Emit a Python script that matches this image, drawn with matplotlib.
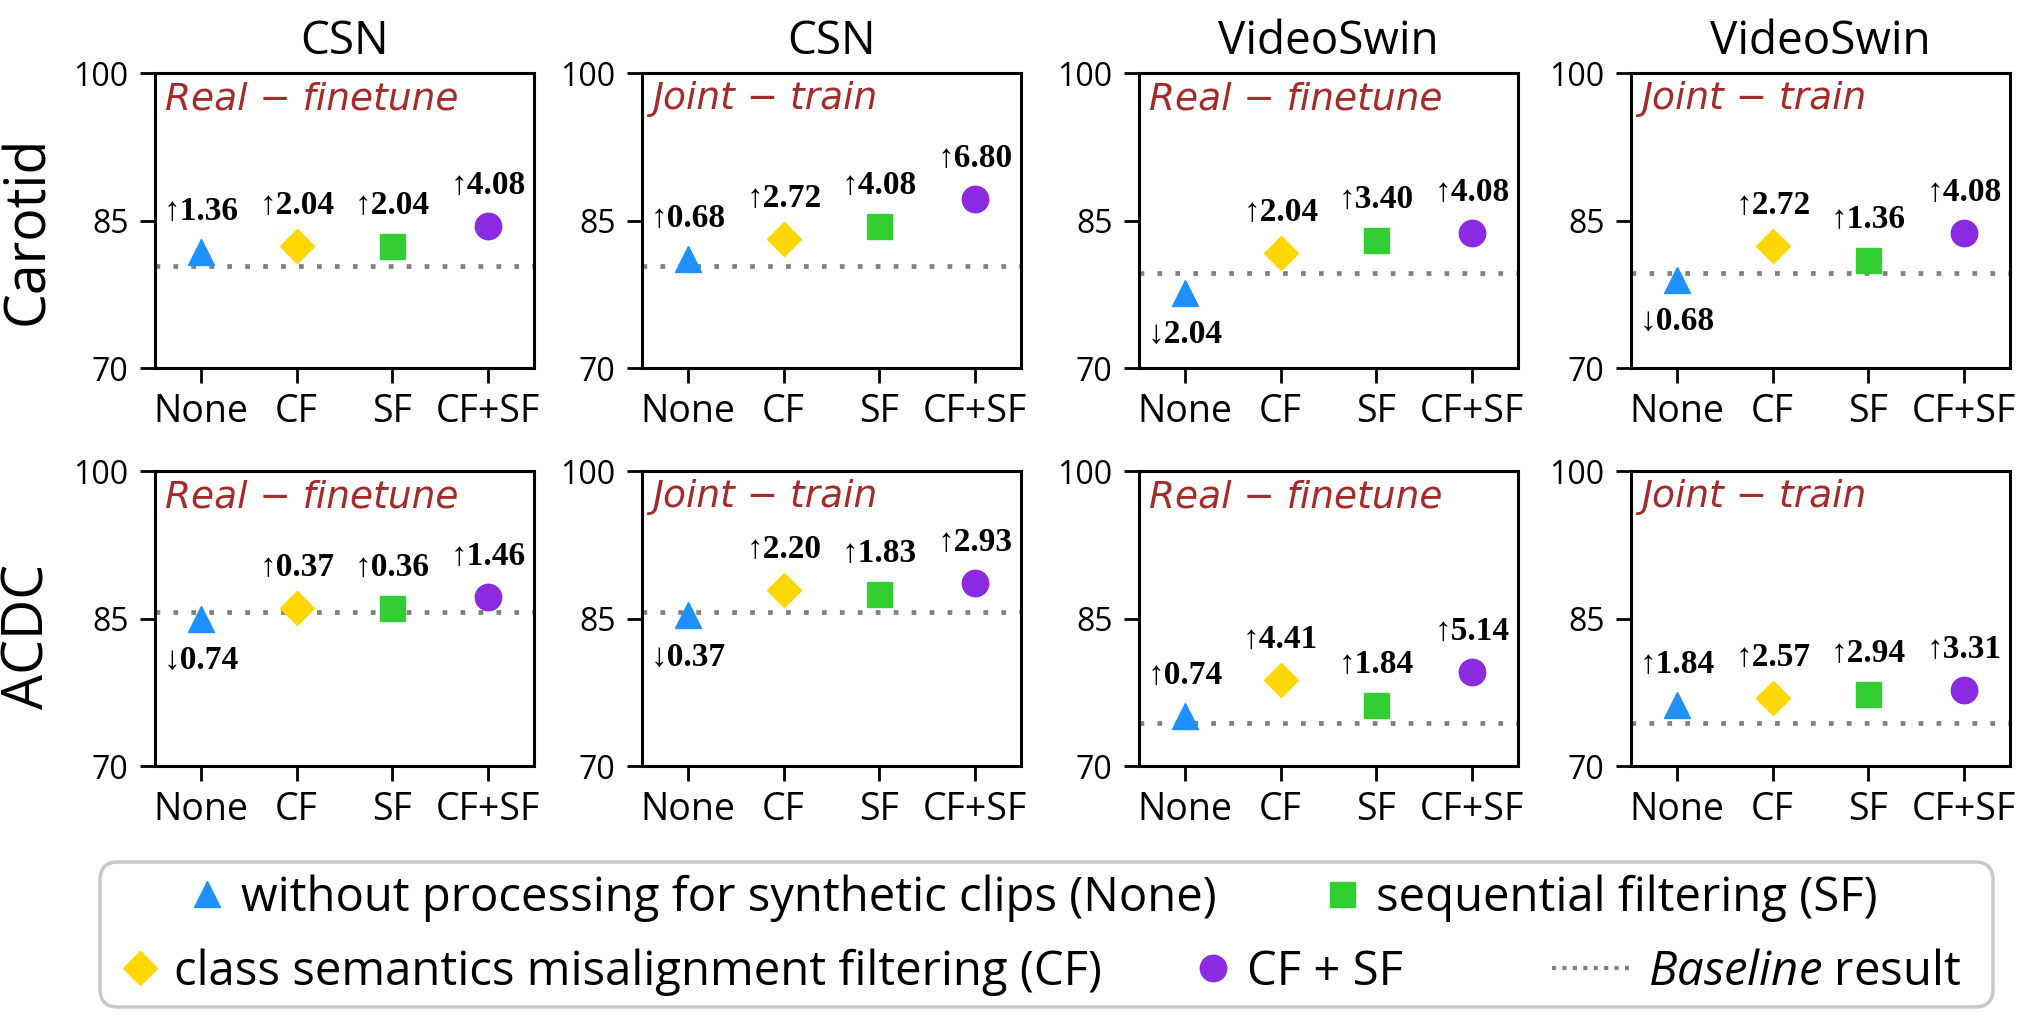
import matplotlib.pyplot as plt
from matplotlib.lines import Line2D
from matplotlib.patches import FancyBboxPatch
from matplotlib.transforms import IdentityTransform

plt.rcParams['font.family'] = ['Open Sans', 'DejaVu Sans']
plt.rcParams['mathtext.fontset'] = 'custom'
plt.rcParams['mathtext.it'] = 'Open Sans:italic'
plt.rcParams['mathtext.rm'] = 'Open Sans'

#------------------------------------- DATOS ------------------------------------

models = ['CSN', 'CSN', 'VideoSwin', 'VideoSwin']
settings = ['Real − finetune', 'Joint − train', 'Real − finetune', 'Joint − train']
datasets = ['Carotid', 'ACDC']
methods = ['None', 'CF', 'SF', 'CF+SF']

baseline_carotid = [80.40, 80.40, 79.66, 79.66]
baseline_acdc = [85.69, 85.69, 74.37, 74.37]

scores_carotid = [
    [81.76, 82.44, 82.44, 84.48],
    [81.08, 83.12, 84.48, 87.20],
    [77.62, 81.70, 83.06, 83.74],
    [78.98, 82.38, 81.02, 83.74],
]
scores_acdc = [
    [84.95, 86.06, 86.05, 87.15],
    [85.32, 87.89, 87.52, 88.62],
    [75.11, 78.78, 76.21, 79.51],
    [76.21, 76.94, 77.31, 77.68],
]
deltas_carotid = [
    [1.36, 2.04, 2.04, 4.08],
    [0.68, 2.72, 4.08, 6.80],
    [-2.04, 2.04, 3.40, 4.08],
    [-0.68, 2.72, 1.36, 4.08],
]
deltas_acdc = [
    [-0.74, 0.37, 0.36, 1.46],
    [-0.37, 2.20, 1.83, 2.93],
    [0.74, 4.41, 1.84, 5.14],
    [1.84, 2.57, 2.94, 3.31],
]

legend_labels = ['without processing for synthetic clips (None)',
                 'class semantics misalignment filtering (CF)',
                 'sequential filtering (SF)',
                 'CF + SF',
                 '$\\it{Baseline}$ result']

#------------------------------------- ESTILO ------------------------------------

markers = ['^', 'D', 's', 'o']
colors = ['#1E90FF', '#FFD700', '#32CD32', '#8A2BE2']
msizes = [19, 17, 18, 19]
serif = ['Liberation Serif', 'DejaVu Serif']

W, H = 2025, 1016
fig = plt.figure(figsize=(W / 100, H / 100), dpi=100)

col_left = [155, 642, 1139, 1631]
row_top = [73, 471]
ax_w, ax_h = 379, 295

all_scores = [scores_carotid, scores_acdc]
all_deltas = [deltas_carotid, deltas_acdc]
all_base = [baseline_carotid, baseline_acdc]

for r in range(2):
    for c in range(4):
        ax = fig.add_axes([col_left[c] / W, 1 - (row_top[r] + ax_h) / H, ax_w / W, ax_h / H])
        ax.set_xlim(-0.48, 3.48)
        ax.set_ylim(70, 100)
        ax.set_yticks([70, 85, 100])
        ax.set_xticks(range(len(methods)))
        ax.set_xticklabels(methods)
        ax.tick_params(axis='x', labelsize=27, length=11, width=2, pad=7)
        ax.tick_params(axis='y', labelsize=23, length=11, width=2, pad=8)
        for s in ax.spines.values():
            s.set_linewidth(2.2)

        ax.axhline(all_base[r][c], color='gray', lw=3.4, ls=(0, (1, 2.8)), zorder=1)

        for i in range(len(methods)):
            y = all_scores[r][c][i]
            d = all_deltas[r][c][i]
            ax.plot([i], [y], marker=markers[i], ms=msizes[i], color=colors[i],
                    mec=colors[i], mew=1, ls='none', zorder=3)
            if d >= 0:
                txt, off, va = '↑%.2f' % d, 18, 'bottom'
            else:
                txt, off, va = '↓%.2f' % abs(d), -19, 'top'
            ax.annotate(txt, (i, y), xytext=(0, off), textcoords='offset points',
                        ha='center', va=va, fontsize=24, fontweight='bold', family=serif)

        ax.annotate(settings[c], (0, 1), xycoords='axes fraction', xytext=(7, -6),
                    textcoords='offset points', ha='left', va='top', fontsize=27,
                    family='DejaVu Sans', style='italic', color='#A52A2A')

        if r == 0:
            ax.set_title(models[c], fontsize=33, pad=14)

# etiquetas de fila
fig.text(29 / W, 1 - 230 / H, datasets[0], rotation=90, ha='center', va='center', fontsize=40)
fig.text(29 / W, 1 - 636 / H, datasets[1], rotation=90, ha='center', va='center', fontsize=40)

#------------------------------------- LEYENDA ------------------------------------

handles = [Line2D([], [], marker=markers[0], ms=msizes[0], color=colors[0], ls='none'),
           Line2D([], [], marker=markers[1], ms=msizes[1], color=colors[1], ls='none'),
           Line2D([], [], marker=markers[2], ms=msizes[2], color=colors[2], ls='none'),
           Line2D([], [], marker=markers[3], ms=msizes[3], color=colors[3], ls='none'),
           Line2D([], [], color='gray', lw=3, ls=(0, (1, 1.5)))]

# posicion (izquierda del handle, centro vertical) en pixeles
leg_pos = [(188, 898), (121, 972), (1323, 898), (1194, 972), (1552, 972)]
leg_hlen = [0.8, 0.8, 0.8, 0.8, 1.7]

for h, lab, (px, py), hl in zip(handles, legend_labels, leg_pos, leg_hlen):
    fig.legend(handles=[h], labels=[lab], loc='center left',
               bbox_to_anchor=(px / W, 1 - py / H), bbox_transform=fig.transFigure,
               frameon=False, borderpad=0, borderaxespad=0, handlelength=hl,
               handletextpad=0.33, fontsize=34)

frame = FancyBboxPatch((100, H - 1007), 1893, 145, boxstyle='round,pad=0,rounding_size=18',
                       transform=IdentityTransform(), fc='white', ec='#c8c8c8', lw=2.5, zorder=0)
fig.add_artist(frame)

fig.savefig('out.png', dpi=100)
